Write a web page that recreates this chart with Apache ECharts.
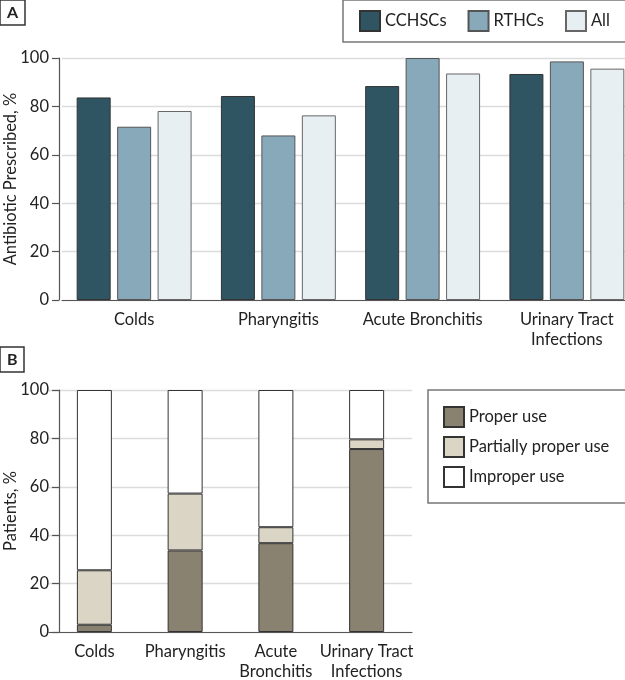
<!DOCTYPE html>
<html>
<head>
<meta charset="utf-8">
<script src="https://cdn.jsdelivr.net/npm/echarts@6/dist/echarts.min.js"></script>
<style>
html,body{margin:0;padding:0;background:#fff;}
#chart{width:625px;height:680px;}
</style>
</head>
<body>
<div id="chart"></div>
<script>
// Panel A data
const categoriesA = ['Colds', 'Pharyngitis', 'Acute Bronchitis', 'Urinary Tract\nInfections'];
const cchscs = [83.7, 84.3, 88.4, 93.4];
const rthcs = [71.6, 68.0, 100, 98.6];
const allA = [78.1, 76.3, 93.6, 95.6];
// Panel B data
const categoriesB = ['Colds', 'Pharyngitis', 'Acute\nBronchitis', 'Urinary Tract\nInfections'];
const properUse = [3.0, 33.7, 36.7, 75.6];
const partialUse = [22.5, 23.5, 6.6, 4.0];
const improperUse = [74.5, 42.8, 56.7, 20.4];
const yTicks = [0, 20, 40, 60, 80, 100];

const FONT = 'Lato';
const TXT = '#222';
const AX = '#555';
const GRID = '#dcdcdc';
const BORDER = '#333';

const chart = echarts.init(document.getElementById('chart'), null, {renderer: 'canvas'});

function yAxis(gridIndex, name, offset) {
  return {
    type: 'value', gridIndex, min: yTicks[0], max: yTicks[yTicks.length - 1], interval: 20,
    offset,
    name, nameLocation: 'middle', nameGap: 40, nameMoveOverlap: false,
    nameTextStyle: {fontFamily: FONT, fontSize: 16.5, color: TXT},
    axisLine: {show: true, lineStyle: {color: AX, width: 1.2}},
    axisTick: {show: true, length: 7, lineStyle: {color: AX, width: 1.2}},
    axisLabel: {fontFamily: FONT, fontSize: 16.5, color: TXT, margin: 10},
    splitLine: {show: true, lineStyle: {color: GRID, width: 1.3}}
  };
}
function xAxis(gridIndex, data) {
  return {
    type: 'category', gridIndex, data,
    axisLine: {show: true, lineStyle: {color: AX, width: 1.2}},
    axisTick: {show: false},
    axisLabel: {fontFamily: FONT, fontSize: 16.5, color: TXT, margin: 10, lineHeight: 20, interval: 0}
  };
}

const option = {
  animation: false,
  backgroundColor: '#fff',
  title: [
    {text: 'A', left: 0, top: 0, padding: [5, 7, 4, 7], borderColor: BORDER, borderWidth: 1.5,
     textStyle: {fontFamily: FONT, fontSize: 16, fontWeight: 'bold', color: TXT}},
    {text: 'B', left: 0, top: 347, padding: [5, 7, 4, 7], borderColor: BORDER, borderWidth: 1.5,
     textStyle: {fontFamily: FONT, fontSize: 16, fontWeight: 'bold', color: TXT}}
  ],
  legend: [
    {data: ['CCHSCs', 'RTHCs', 'All'], left: 343, top: 0, orient: 'horizontal', width: 400,
     padding: [10, 40, 10, 16], itemWidth: 20, itemHeight: 20, itemGap: 21,
     borderColor: '#777', borderWidth: 1.5, icon: 'rect',
     textStyle: {fontFamily: FONT, fontSize: 16.5, color: TXT}},
    {data: ['Proper use', 'Partially proper use', 'Improper use'], left: 428, top: 390, orient: 'vertical',
     padding: [16, 30, 15, 15], itemWidth: 20, itemHeight: 20, itemGap: 8,
     borderColor: '#777', borderWidth: 1.5, icon: 'rect',
     textStyle: {fontFamily: FONT, fontSize: 16.5, color: TXT}}
  ],
  grid: [
    {left: 62, width: 577, top: 58, height: 242, containLabel: false, outerBoundsMode: 'none'},
    {left: 49, width: 363, top: 390, height: 242, containLabel: false, outerBoundsMode: 'none'}
  ],
  xAxis: [xAxis(0, categoriesA), xAxis(1, categoriesB)],
  yAxis: [yAxis(0, 'Antibiotic Prescribed, %', 3), yAxis(1, 'Patients, %', -10)],
  series: [
    {name: 'CCHSCs', type: 'bar', xAxisIndex: 0, yAxisIndex: 0, data: cchscs, barWidth: 34, barGap: '19%', barCategoryGap: '20%',
     itemStyle: {color: '#2f5563', borderColor: BORDER, borderWidth: 1}},
    {name: 'RTHCs', type: 'bar', xAxisIndex: 0, yAxisIndex: 0, data: rthcs, barWidth: 34, barGap: '19%',
     itemStyle: {color: '#88a9b9', borderColor: '#555', borderWidth: 1}},
    {name: 'All', type: 'bar', xAxisIndex: 0, yAxisIndex: 0, data: allA, barWidth: 34, barGap: '19%',
     itemStyle: {color: '#e8eff2', borderColor: '#666', borderWidth: 1}},
    {name: 'Proper use', type: 'bar', stack: 'b', xAxisIndex: 1, yAxisIndex: 1, data: properUse, barWidth: 35,
     itemStyle: {color: '#8a8271', borderColor: BORDER, borderWidth: 1}},
    {name: 'Partially proper use', type: 'bar', stack: 'b', xAxisIndex: 1, yAxisIndex: 1, data: partialUse, barWidth: 35,
     itemStyle: {color: '#dbd5c6', borderColor: BORDER, borderWidth: 1}},
    {name: 'Improper use', type: 'bar', stack: 'b', xAxisIndex: 1, yAxisIndex: 1, data: improperUse, barWidth: 35,
     itemStyle: {color: '#ffffff', borderColor: BORDER, borderWidth: 1}}
  ]
};
chart.setOption(option);
</script>
</body>
</html>
